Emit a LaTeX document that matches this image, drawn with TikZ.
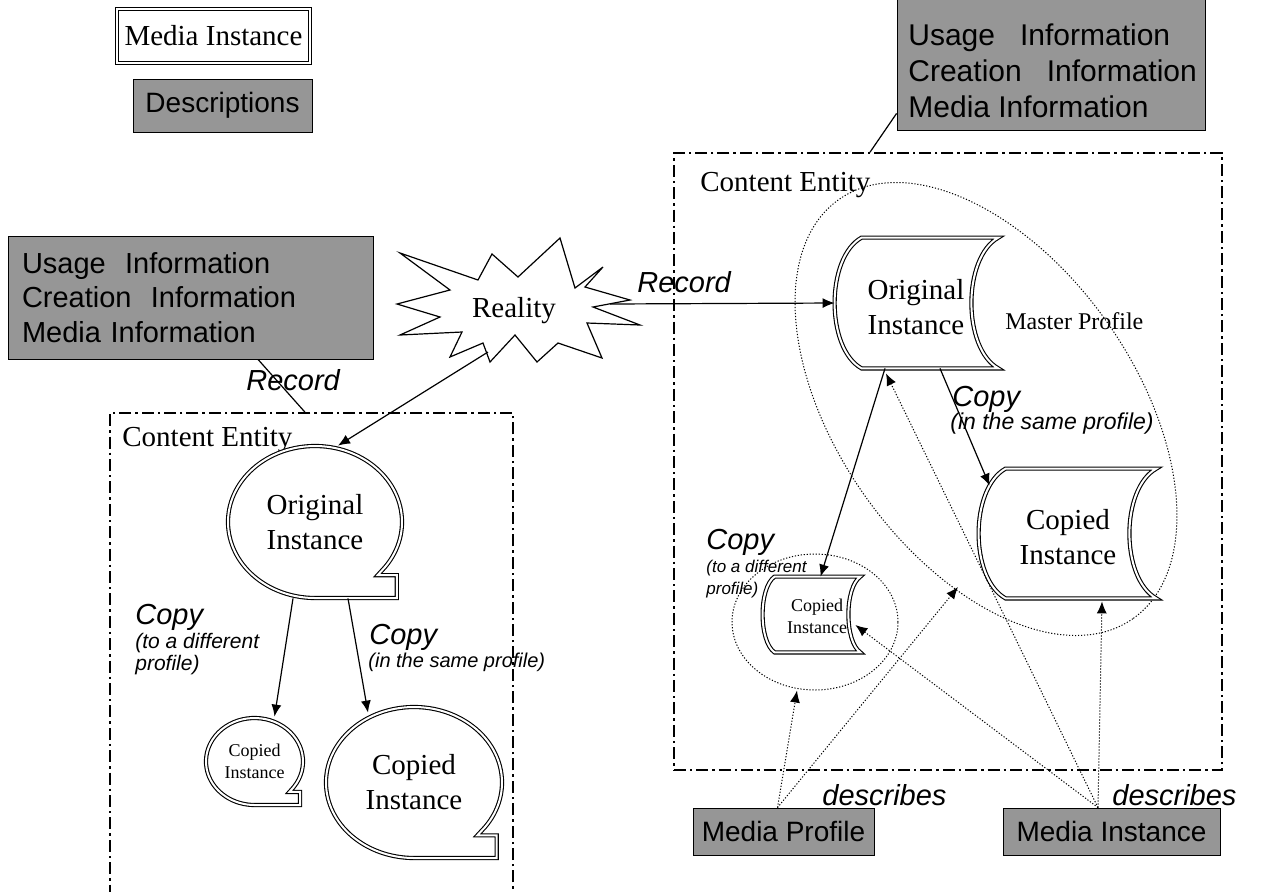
\documentclass[tikz,border=0pt]{standalone}
\usepackage{fontspec}
\setmainfont{Liberation Serif}
\setsansfont{Liberation Sans}
\usetikzlibrary{arrows.meta,shapes.geometric}
\definecolor{descgray}{RGB}{150,150,150}

\tikzset{
  bubble/.pic={\draw[dbl] (0,1) -- (0.94,1) -- (0.94,0.7) -- (0.72,0.7) -- (36:1)
    arc[start angle=36,end angle=-270,radius=1] -- cycle;}
}
% stored-data like outline round a node: name, ctrl x, ctrl y (px)
\newcommand{\tapeshape}[3]{%
  \draw[dbl] (#1.north west) -- (#1.north east)
    .. controls ([shift={(-#2,#3)}]#1.north east) and ([shift={(-#2,-#3)}]#1.south east) .. (#1.south east)
    -- (#1.south west)
    .. controls ([shift={(-#2,-#3)}]#1.south west) and ([shift={(-#2,#3)}]#1.north west) .. cycle;}

\begin{document}
\begin{tikzpicture}[x=0.5pt,y=-0.5pt,
  dbl/.style={draw,double,double distance=1pt,line width=0.55pt},
  serif/.style={font=\fontsize{14.5}{17.5}\selectfont,align=center},
  small/.style={font=\fontsize{9}{11}\selectfont,align=center},
  lbl/.style={font=\sffamily\itshape\fontsize{14.5}{17}\selectfont,inner sep=0pt,anchor=base west},
  sublbl/.style={font=\sffamily\itshape\fontsize{#1}{11}\selectfont,inner sep=0pt,anchor=base west},
  sublbl/.default=10.5,
  descbox/.style={draw,fill=descgray,font=\sffamily\fontsize{14.5}{17.25}\selectfont,align=left,inner sep=0pt},
  entity/.style={draw,line width=0.8pt,dash pattern=on 6pt off 2pt on 1.2pt off 2pt,inner sep=0pt},
  shapebox/.style={inner sep=0pt},
  arr/.style={-{Latex[length=6pt,width=5pt]},line width=0.6pt},
  darr/.style={-{Latex[length=6pt,width=5pt]},line width=0.5pt,dash pattern=on 0.6pt off 0.9pt},
  prof/.style={line width=0.5pt,dash pattern=on 0.6pt off 0.9pt}]
\useasboundingbox (0,0) rectangle (1271,891);

% legend
\node[dbl,serif,minimum width=96.5pt,minimum height=27pt] (legI) at (213.5,36) {Media Instance};
\node[descbox,align=center,font=\sffamily\fontsize{14}{16}\selectfont,minimum width=89.5pt,minimum height=26.5pt] (legD) at (222.5,105.5) {Descriptions};

% content entities
\node[entity,minimum width=201.5pt,minimum height=246pt] (entL) at (311.5,659) {};
\node[entity,minimum width=274pt,minimum height=308.5pt] (entR) at (948,461.5) {};
\node[serif,anchor=base west,inner sep=0pt] (entLtxt) at (122,446) {Content Entity};
\node[serif,anchor=base west,inner sep=0pt] (entRtxt) at (700,191) {Content Entity};

% descriptions
\node[descbox,minimum width=182.5pt,minimum height=61.5pt,text width=168.5pt] (descL) at (190.5,297.5)
  {Usage\ \ Information\\Creation\ \ Information\\Media Information};
\node[descbox,minimum width=154pt,minimum height=66pt] (descR) at (1051,64) {};
\node[font=\sffamily\fontsize{15}{18}\selectfont,align=left,anchor=west,inner sep=0pt] (descRtxt) at (908,71)
  {Usage\ \ \ Information\\Creation\ \ \ Information\\Media Information};
\draw[line width=0.6pt] ([shift={(67.5,0)}]descL.south) -- ([shift={(-6.5,0)}]entL.north);
\draw[line width=0.6pt] ([shift={(0,-17)}]descR.south west) -- ([shift={(-78,0)}]entR.north);

% reality
\draw[line width=0.6pt] (560,238) -- (575,288) -- (603,267) -- (585,287) -- (630,300) -- (593,307)
  -- (640,325) -- (587,323) -- (602,358) -- (558,343) -- (537,362) -- (515,335) -- (490,362)
  -- (483,343) -- (450,357) -- (462,332) -- (400,335) -- (440,317) -- (397,304) -- (450,290)
  -- (400,253) -- (478,280) -- (492,254) -- (518,277) -- cycle;
\node[serif] (real) at (514,311) {Reality};

% left instances
\node[serif,minimum width=87pt,minimum height=76pt] (obL) at (315,522) {Original\\Instance};
\pic[xscale=87,yscale=76] at (obL.center) {bubble};
\node[small,minimum width=48.5pt,minimum height=43.5pt] (cbS) at (254.5,761.5) {Copied\\Instance};
\pic[xscale=48.5,yscale=43.5] at (cbS.center) {bubble};
\node[serif,minimum width=88pt,minimum height=75.5pt] (cbL) at (414,782.5) {Copied\\Instance};
\pic[xscale=88,yscale=75.5] at (cbL.center) {bubble};

% right instances
\coordinate (mpc) at (986,409);
\draw[prof,rotate around={-55:(mpc)}] (mpc) ellipse [x radius=256,y radius=149];
\node[font=\fontsize{12}{14}\selectfont,anchor=base west,inner sep=0pt] (mp) at (1005,329) {Master Profile};
\node[prof,draw,ellipse,minimum width=83pt,minimum height=68pt,inner sep=0pt] (cpS) at (815,622) {};

\node[shapebox,minimum width=68pt,minimum height=65pt] (oiR) at (930,303) {};
\tapeshape{oiR}{36}{20}
\node[serif] (oiRtxt) at (916,307.5) {Original\\Instance};
\node[shapebox,minimum width=75pt,minimum height=64.5pt] (ciR) at (1081,533.5) {};
\tapeshape{ciR}{36}{20}
\node[serif] (ciRtxt) at (1068,537.5) {Copied\\Instance};
\node[shapebox,minimum width=42.5pt,minimum height=37.5pt] (ciS) at (817.5,614.5) {};
\tapeshape{ciS}{16}{11}
\node[small] (ciStxt) at (817,616) {Copied\\Instance};

% media boxes
\node[descbox,align=center,font=\sffamily\fontsize{14}{16}\selectfont,minimum width=90.5pt,minimum height=23.5pt] (mprof) at (783.5,831.5) {Media Profile};
\node[descbox,align=center,font=\sffamily\fontsize{14}{16}\selectfont,minimum width=108.5pt,minimum height=23.5pt] (minst) at (1111.5,831.5) {Media Instance};
\coordinate (mpEdge) at (958,587);

% record and copy
\draw[arr] ([shift={(96,-7)}]real.center) -- ([shift={(-27,0)}]oiR.west);
\draw[arr] ([shift={(-26,41)}]real.center) -- ([shift={(23,0)}]obL.north);
\draw[arr] ([shift={(-22,0)}]obL.south) -- ([shift={(20,-1)}]cbS.north);
\draw[arr] ([shift={(33,0)}]obL.south) -- ([shift={(-46,6)}]cbL.north);
\draw[arr] ([shift={(-45,0)}]oiR.south) -- ([shift={(3,0)}]ciS.north);
\draw[arr] ([shift={(10,0)}]oiR.south) -- ([shift={(-16,17)}]ciR.north west);

% describes
\draw[darr] ([shift={(-6,0)}]mprof.north) -- ([shift={(-18,0)}]cpS.south);
\draw[darr] ([shift={(-6,0)}]mprof.north) -- (mpEdge);
\draw[darr] ([shift={(-13.5,0)}]minst.north) -- ([shift={(-5,10.5)}]ciS.east);
\draw[darr] ([shift={(-13.5,0)}]minst.north) -- ([shift={(-44,5)}]oiR.south);
\draw[darr] ([shift={(-13.5,0)}]minst.north) -- ([shift={(21,3)}]ciR.south);

% labels
\node[lbl] (recA) at (637,292) {Record};
\node[lbl] (recB) at (246,390) {Record};
\node[lbl] (cpA) at (135,624) {Copy};
\node[sublbl] (cpAs1) at (135,648) {(to a different};
\node[sublbl] (cpAs2) at (135,670) {profile)};
\node[lbl] (cpB) at (369,644) {Copy};
\node[sublbl=10] (cpBs) at (368,667) {(in the same profile)};
\node[lbl] (cpC) at (706,549) {Copy};
\node[sublbl=8.5] (cpCs1) at (706,572) {(to a different};
\node[sublbl=8.5] (cpCs2) at (706,594) {profile)};
\node[lbl] (cpD) at (952,406) {Copy};
\node[sublbl=11.5] (cpDs) at (950,429) {(in the same profile)};
\node[lbl] (dsA) at (822,805) {describes};
\node[lbl] (dsB) at (1112,805) {describes};
\end{tikzpicture}
\end{document}
